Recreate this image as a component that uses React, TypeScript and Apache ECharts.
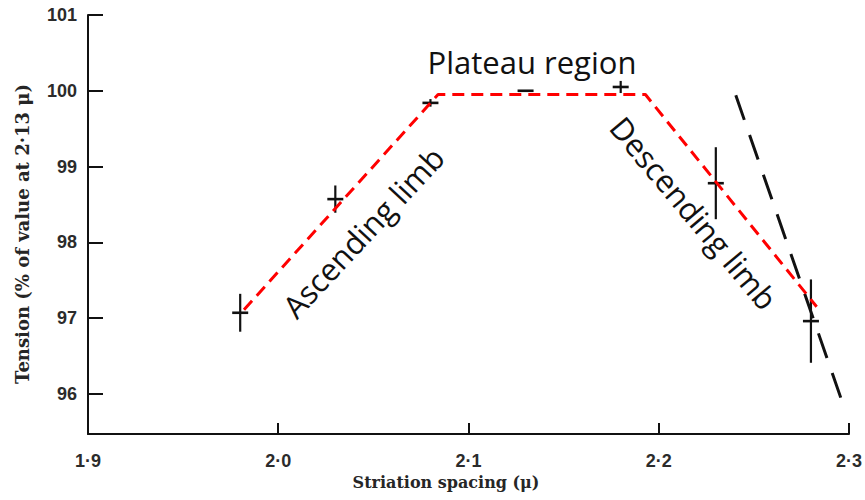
import React, { useEffect, useRef } from "react";
import * as echarts from "echarts";

// Striation spacing (μ) at which each tension was measured
const spacing = [1.98, 2.03, 2.08, 2.13, 2.18, 2.23, 2.28];
// Tension, % of the value at 2·13 μ
const tension = [97.07, 98.57, 99.84, 100.0, 100.05, 98.78, 96.96];
// Half-length of each vertical error bar (% units)
const errorHalf = [0.25, 0.18, 0.05, 0, 0.08, 0.475, 0.55];

// Red dashed outline: ascending limb, plateau, descending limb
const outlineX = [1.982, 2.084, 2.193, 2.283];
const outlineY = [97.11, 99.95, 99.95, 97.15];

// Steep black dashed line on the right
const steepX = [2.2405, 2.2958];
const steepY = [99.94, 95.94];

const xTicks = [1.9, 2.0, 2.1, 2.2, 2.3];
const yTicks = [96, 97, 98, 99, 100, 101];

const X_MIN = 1.9;
const X_MAX = 2.3;
const Y_MIN = 95.47;
const Y_MAX = 101;

export default function App() {
  const ref = useRef<HTMLDivElement>(null);

  useEffect(() => {
    if (!ref.current) return;
    const chart = echarts.init(ref.current, null, { renderer: "svg" });

    const points = spacing.map((x, i) => [x, tension[i], errorHalf[i]]);
    const outline = outlineX.map((x, i) => [x, outlineY[i]]);
    const steep = steepX.map((x, i) => [x, steepY[i]]);

    const tickFont = {
      fontFamily: "'Liberation Sans', Arial, sans-serif",
      fontSize: 18,
      fontWeight: "bold" as const,
      color: "#2b2b2b",
    };
    const noteFont = "'Open Sans', 'Noto Sans', sans-serif";
    const titleFont = "'DejaVu Serif', serif";

    chart.setOption({
      animation: false,
      backgroundColor: "#ffffff",
      grid: { left: 88, right: 15, top: 15, bottom: 66, containLabel: false },
      xAxis: {
        type: "value",
        min: X_MIN,
        max: X_MAX,
        splitLine: { show: false },
        axisLine: { show: true, onZero: false, lineStyle: { color: "#111", width: 2 } },
        axisTick: {
          show: true,
          inside: true,
          length: 11,
          customValues: xTicks,
          lineStyle: { color: "#111", width: 2 },
        },
        axisLabel: {
          ...tickFont,
          margin: 18,
          customValues: xTicks,
          formatter: (v: number) => v.toFixed(1).replace(".", "·"),
        },
      },
      yAxis: {
        type: "value",
        min: Y_MIN,
        max: Y_MAX,
        splitLine: { show: false },
        axisLine: { show: true, onZero: false, lineStyle: { color: "#111", width: 2 } },
        axisTick: {
          show: true,
          inside: true,
          length: 15,
          customValues: yTicks,
          lineStyle: { color: "#111", width: 2 },
        },
        axisLabel: {
          ...tickFont,
          margin: 11,
          customValues: yTicks,
          formatter: (v: number) => String(Math.round(v)),
        },
      },
      graphic: [
        {
          type: "text",
          x: 446,
          y: 482,
          style: {
            text: "Striation spacing (μ)",
            fontFamily: titleFont,
            fontWeight: "bold",
            fontSize: 16,
            fill: "#262626",
            textAlign: "center",
            textVerticalAlign: "middle",
          },
        },
        {
          type: "text",
          x: 22,
          y: 234,
          rotation: Math.PI / 2,
          style: {
            text: "Tension (% of value at 2·13 μ)",
            fontFamily: titleFont,
            fontWeight: "bold",
            fontSize: 18,
            fill: "#262626",
            textAlign: "center",
            textVerticalAlign: "middle",
          },
        },
        {
          type: "text",
          x: 532,
          y: 62,
          style: {
            text: "Plateau region",
            fontFamily: noteFont,
            fontSize: 31,
            fill: "#111",
            textAlign: "center",
            textVerticalAlign: "middle",
          },
        },
        {
          type: "text",
          x: 363,
          y: 232,
          rotation: (47 * Math.PI) / 180,
          style: {
            text: "Ascending limb",
            fontFamily: noteFont,
            fontSize: 31,
            fill: "#111",
            textAlign: "center",
            textVerticalAlign: "middle",
          },
        },
        {
          type: "text",
          x: 694,
          y: 213,
          rotation: (-50 * Math.PI) / 180,
          style: {
            text: "Descending limb",
            fontFamily: noteFont,
            fontSize: 31,
            fill: "#111",
            textAlign: "center",
            textVerticalAlign: "middle",
          },
        },
      ],
      series: [
        {
          type: "line",
          data: steep,
          symbol: "none",
          silent: true,
          lineStyle: { color: "#111", width: 3, type: [26, 16] },
          z: 2,
        },
        {
          type: "custom",
          data: points,
          silent: true,
          z: 3,
          renderItem: (params: any, api: any) => {
            const x = api.value(0);
            const y = api.value(1);
            const e = api.value(2);
            const c = api.coord([x, y]);
            const top = api.coord([x, y + e]);
            const bot = api.coord([x, y - e]);
            return {
              type: "group",
              children: [
                {
                  type: "line",
                  shape: { x1: c[0], y1: top[1], x2: c[0], y2: bot[1] },
                  style: { stroke: "#111", lineWidth: 2.2 },
                },
                {
                  type: "line",
                  shape: { x1: c[0] - 8, y1: c[1], x2: c[0] + 8, y2: c[1] },
                  style: { stroke: "#111", lineWidth: 2.6 },
                },
              ],
            };
          },
        },
        {
          type: "line",
          data: outline,
          symbol: "none",
          silent: true,
          lineStyle: { color: "#ff0000", width: 3, type: [12, 7] },
          z: 4,
        },
      ],
    });

    return () => chart.dispose();
  }, []);

  return (
    <div
      ref={ref}
      style={{ position: "fixed", left: 0, top: 0, width: 865, height: 500 }}
    />
  );
}
